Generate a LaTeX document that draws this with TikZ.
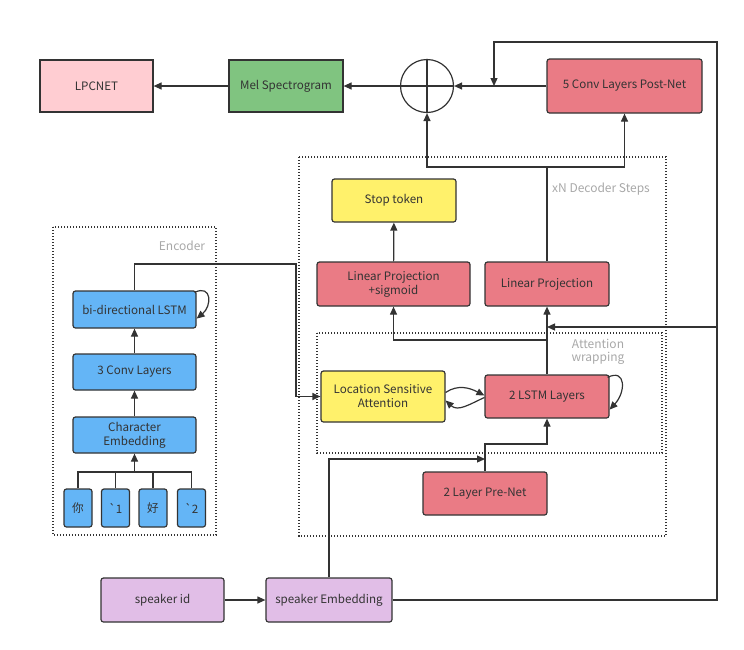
\documentclass[tikz,border=0pt]{standalone}
\usepackage{fontspec}
\setmainfont{Noto Sans CJK SC}
\usetikzlibrary{arrows.meta}

\definecolor{lineC}{HTML}{333333}
\definecolor{labelC}{HTML}{A8A8A8}
\definecolor{pinkC}{HTML}{FFCDD2}
\definecolor{greenC}{HTML}{80C480}
\definecolor{redC}{HTML}{EA7B85}
\definecolor{yellowC}{HTML}{FFF16B}
\definecolor{blueC}{HTML}{64B5F6}
\definecolor{purpleC}{HTML}{E1BEE7}

\tikzset{
  box/.style={draw=lineC, line width=1.2pt, rounded corners=2.5pt, align=center,
    inner sep=0pt, text=lineC, font=\fontsize{11.6}{14}\selectfont},
  redbox/.style={box, fill=redC},
  bluebox/.style={box, fill=blueC},
  yellowbox/.style={box, fill=yellowC},
  purplebox/.style={box, fill=purpleC},
  charbox/.style={bluebox, minimum width=28, minimum height=38},
  arr/.style={draw=lineC, line width=1.2pt, -{Triangle[length=8pt,width=7pt]}},
  wire/.style={draw=lineC, line width=1.2pt},
  group/.style={draw=lineC, line width=1.1pt, dash pattern=on 1.3pt off 1.7pt},
  grouplabel/.style={text=labelC, align=center, font=\fontsize{12}{13.5}\selectfont}
}

\begin{document}
\begin{tikzpicture}[x=1pt,y=-1pt]
\useasboundingbox (0,0) rectangle (744,649);

% group frames
\draw[group] (53,227) rectangle (216,535);
\node[grouplabel] (enclabel) at (182,246) {Encoder};
\draw[group] (299,157) rectangle (666,536);
\node[grouplabel] (declabel) at (601,189) {xN Decoder Steps};
\draw[group] (317,333) rectangle (662,453);
\node[grouplabel] (attlabel) at (598,352) {Attention\\wrapping};

% output chain
\node[box, rounded corners=0pt, fill=pinkC, minimum width=113, minimum height=52] (lpc) at (96.5,86) {LPCNET};
\node[box, rounded corners=0pt, fill=greenC, minimum width=114, minimum height=52] (mel) at (286,86) {Mel Spectrogram};
\node[circle, draw=lineC, line width=1.2pt, minimum size=53, inner sep=0pt] (sum) at (427,86) {};
\draw[wire] (sum.north) -- (sum.south);
\draw[wire] (sum.west) -- (sum.east);
\node[redbox, minimum width=155, minimum height=54] (post) at (624.5,86) {5 Conv Layers Post-Net};

% decoder
\node[yellowbox, minimum width=124, minimum height=43] (stop) at (394,200.5) {Stop token};
\node[redbox, minimum width=153, minimum height=44] (linsig) at (393.5,284) {Linear Projection\\+sigmoid};
\node[redbox, minimum width=124, minimum height=44] (lin) at (547,284) {Linear Projection};
\node[yellowbox, minimum width=124, minimum height=51] (lsa) at (383,396.5) {Location Sensitive\\Attention};
\node[redbox, minimum width=124, minimum height=43] (lstm) at (547,396.5) {2 LSTM Layers};
\node[redbox, minimum width=124, minimum height=43] (pre) at (485,493.5) {2 Layer Pre-Net};

% encoder
\node[bluebox, minimum width=123, minimum height=37] (bilstm) at (134.5,309.5) {bi-directional LSTM};
\node[bluebox, minimum width=123, minimum height=36] (conv) at (134.5,372) {3 Conv Layers};
\node[bluebox, minimum width=123, minimum height=36] (char) at (134.5,435) {Character\\Embedding};
\node[charbox] (c1) at (78,508) {你};
\node[charbox] (c2) at (115.5,508) {\textasciigrave 1};
\node[charbox] (c3) at (153,508) {好};
\node[charbox] (c4) at (191.5,508) {\textasciigrave 2};

% speaker
\node[purplebox, minimum width=123, minimum height=44] (spk) at (162.5,600) {speaker id};
\node[purplebox, minimum width=126, minimum height=44] (emb) at (329,600) {speaker Embedding};

\coordinate (bus) at (134.5,472);
\coordinate (encout) at (296,264);
\coordinate (split) at (547,167);
\coordinate (lstmup) at (547,340);
\coordinate (prebend) at (485,444);
\coordinate (prejoin) at (485,459);
\coordinate (cornerR) at (717,42);
\coordinate (postjoin) at (494,86);
\coordinate (lstmjoin) at (547,327);

% connections
\draw[arr] (mel) -- (lpc);
\draw[arr] (sum) -- (mel);
\draw[arr] (post) -- (sum);
\draw[wire] (lin.north) -- (split);
\draw[arr] (split) -| (sum.south);
\draw[arr] (split) -| (post.south);
\draw[arr] (linsig) -- (stop);
\draw[arr] (lstm) -- (lin);
\draw[arr] (lstmup) -| (linsig.south);
\draw[arr] (pre.north) -- (prebend) -| (lstm.south);
\draw[arr] (emb.north) |- (prejoin);
\draw[arr] (spk) -- (emb);
\draw[arr] (emb.east) -| (cornerR) -- (postjoin |- cornerR) -- (postjoin);
\draw[arr] (cornerR |- lstmjoin) -- (lstmjoin);
\draw[arr] ([yshift=4]lsa.east) .. controls (458,384) and (470,388) .. ([yshift=1]lstm.west);
\draw[arr] ([yshift=-1]lstm.west) .. controls (470,404) and (458,412) .. ([yshift=-4]lsa.east);
\draw[arr] ([xshift=-2,yshift=-3]lstm.north east) .. controls (626,368) and (626,392) .. ([yshift=9]lstm.south east);
\draw[arr] (bilstm.north) |- (encout) |- (lsa.west);
\draw[arr] ([xshift=-2,yshift=-2]bilstm.north east) .. controls (212,284) and (212,306) .. ([yshift=10]bilstm.south east);
\draw[arr] (conv) -- (bilstm);
\draw[arr] (char) -- (conv);
\draw[wire] (c1.north) |- (bus) -| (c4.north);
\draw[wire] (c2.north) -- (c2.north |- bus);
\draw[wire] (c3.north) -- (c3.north |- bus);
\draw[arr] (bus) -- (char);
\end{tikzpicture}
\end{document}
